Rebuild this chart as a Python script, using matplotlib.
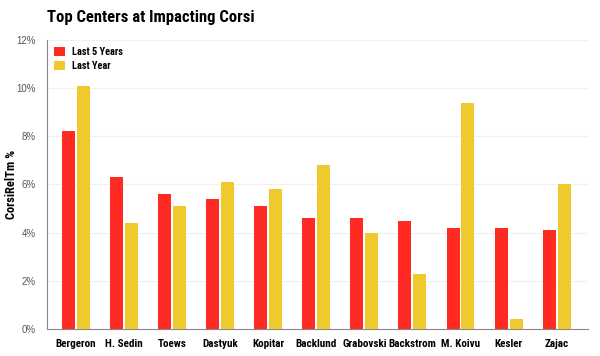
import matplotlib.pyplot as plt
import numpy as np

players = ["Bergeron", "H. Sedin", "Toews", "Dastyuk", "Kopitar", "Backlund",
           "Grabovski", "Backstrom", "M. Koivu", "Kesler", "Zajac"]
last_5_years = [8.2, 6.3, 5.6, 5.4, 5.1, 4.6, 4.6, 4.5, 4.2, 4.2, 4.1]
last_year = [10.1, 4.4, 5.1, 6.1, 5.8, 6.8, 4.0, 2.3, 9.4, 0.4, 6.0]
yticks = [0, 2, 4, 6, 8, 10, 12]

bold_font = ["Roboto Condensed", "DejaVu Sans"]

fig = plt.figure(figsize=(6, 3.56), dpi=100)
ax = fig.add_axes([0.078, 0.076, 0.902, 0.812])

x = np.arange(len(players))
w = 0.27
ax.bar(x - 0.155, last_5_years, w, color="#FF2A22", label="Last 5 Years", zorder=3)
ax.bar(x + 0.155, last_year, w, color="#EFC92E", label="Last Year", zorder=3)

ax.set_xlim(-0.6, 10.65)
ax.set_ylim(0, 12)
ax.set_yticks(yticks)
ax.set_yticklabels([f"{t}%" for t in yticks], color="#555555", fontsize=7, family="Liberation Sans")
ax.set_xticks(x)
ax.set_xticklabels(players, fontsize=8, fontweight="bold", family=bold_font)
ax.tick_params(axis="both", length=0, pad=7)
ax.tick_params(axis="y", pad=8)

ax.grid(axis="y", color="#F0F0F0", linewidth=0.8, zorder=0)
for side in ["top", "right"]:
    ax.spines[side].set_visible(False)
ax.spines["left"].set_color("#888888")
ax.spines["bottom"].set_color("#888888")

ax.set_ylabel("CorsiRelTm %", fontsize=9, fontweight="bold", family=bold_font)
ax.yaxis.set_label_coords(-0.054, 0.5)

fig.text(0.078, 0.95, "Top Centers at Impacting Corsi", fontsize=12, fontweight="bold",
         family=bold_font, va="center", ha="left")

leg = ax.legend(loc="upper left", frameon=False, prop={"family": bold_font, "weight": "bold", "size": 7.5},
                handlelength=1.0, handleheight=1.0, handletextpad=0.7, labelspacing=0.3,
                borderaxespad=0.3)

fig.savefig("out.png", dpi=100, facecolor="white")
